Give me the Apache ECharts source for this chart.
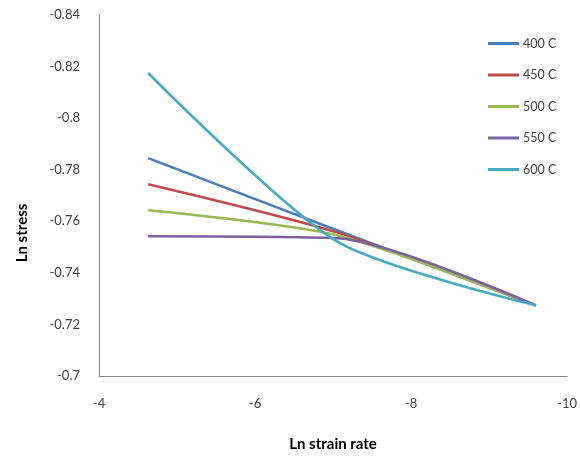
<!DOCTYPE html>
<html>
<head>
<meta charset="utf-8">
<script src="https://cdn.jsdelivr.net/npm/echarts@6/dist/echarts.min.js"></script>
<style>html,body{margin:0;padding:0;background:#fff;}#c{width:580px;height:468px;}</style>
</head>
<body>
<div id="c"></div>
<script>
const strainRate = [-4.63, -7.05, -9.6];
const s400 = [-0.7845, -0.7565, -0.7274];
const s450 = [-0.7744, -0.7557, -0.7274];
const s500 = [-0.7643, -0.7546, -0.7274];
const s550 = [-0.7542, -0.7534, -0.7274];
const s600 = [-0.8175, -0.7522, -0.7274];
const seriesNames = ['400 C', '450 C', '500 C', '550 C', '600 C'];
const seriesValues = [s400, s450, s500, s550, s600];
const colors = ['#4A7EBB', '#BE4B48', '#98B954', '#7D60A0', '#46AAC5'];

const chart = echarts.init(document.getElementById('c'), null, {renderer: 'canvas'});
const font = 'Lato, "Open Sans", sans-serif';
chart.setOption({
  animation: false,
  backgroundColor: '#fff',
  color: colors,
  grid: {left: 99, right: 11, top: 15, bottom: 92, containLabel: false},
  legend: {
    orient: 'vertical', left: 483, top: 32,
    icon: 'rect', itemWidth: 31, itemHeight: 3, itemGap: 18.5,
    textStyle: {fontFamily: font, fontSize: 12.5, color: '#404040', padding: [0,0,0,-1]},
    data: seriesNames
  },
  xAxis: {
    type: 'value', min: -10, max: -4, interval: 2, inverse: true,
    name: 'Ln strain rate', nameLocation: 'middle', nameGap: 61,
    nameTextStyle: {fontFamily: font, fontSize: 15, fontWeight: 'bold', color: '#000'},
    axisLine: {show: true, lineStyle: {color: '#868686', width: 1}},
    axisTick: {show: false},
    splitLine: {show: false},
    axisLabel: {fontFamily: font, fontSize: 13, color: '#404040', margin: 21}
  },
  yAxis: {
    type: 'value', min: -0.84, max: -0.7, interval: 0.02, inverse: true,
    axisLine: {show: true, lineStyle: {color: '#868686', width: 1}},
    axisTick: {show: false},
    splitLine: {show: false},
    axisLabel: {fontFamily: font, fontSize: 13, color: '#404040', margin: 19}
  },
  graphic: [{
    type: 'text', rotation: Math.PI / 2,
    style: {text: 'Ln stress', fontFamily: font, fontSize: 15, fontWeight: 'bold', fill: '#000', textAlign: 'center', textVerticalAlign: 'middle'},
    x: 22, y: 233
  }],
  series: seriesNames.map((n, i) => ({
    name: n, type: 'line', smooth: 0.25, showSymbol: false, symbol: 'none',
    lineStyle: {width: 2.6, color: colors[i]},
    data: strainRate.map((x, j) => [x, seriesValues[i][j]])
  }))
});
</script>
</body>
</html>
